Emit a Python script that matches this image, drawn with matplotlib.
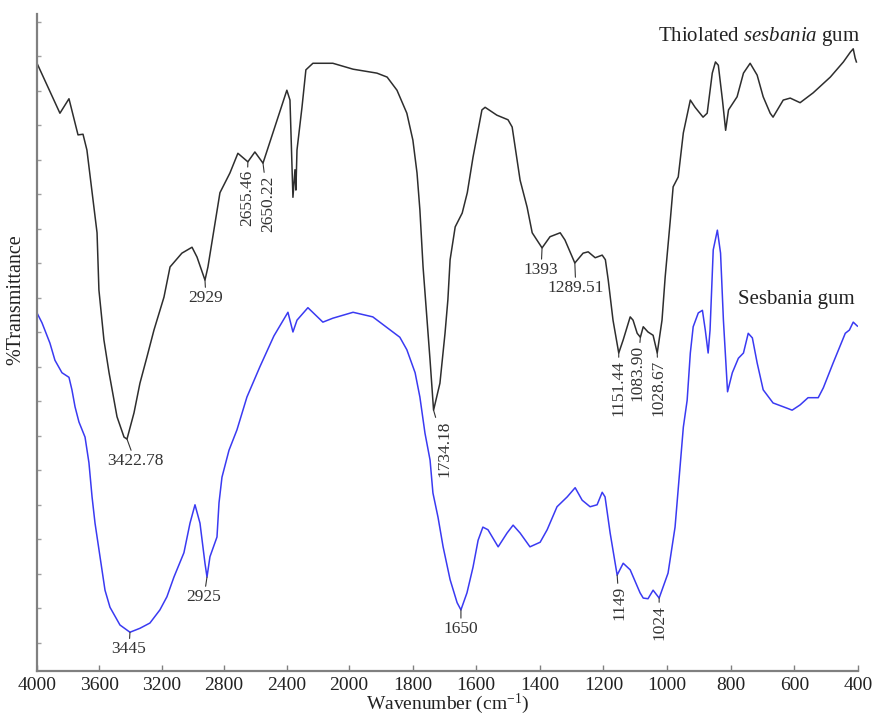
import numpy as np
import matplotlib
matplotlib.use("Agg")
import matplotlib.pyplot as plt

plt.rcParams['font.family'] = ['Liberation Serif', 'DejaVu Serif']
plt.rcParams['mathtext.fontset'] = 'custom'
plt.rcParams['mathtext.rm'] = 'Liberation Serif'
plt.rcParams['mathtext.it'] = 'Liberation Serif:italic'

# thiolated sesbania gum (black trace), wavenumber cm-1 / %T
thio_wn = [4000, 3853, 3795, 3737, 3705, 3680, 3615, 3603, 3571, 3538, 3487, 3442, 3423, 3378,
           3340, 3295, 3250, 3186, 3147, 3071, 3006, 2974, 2923, 2904, 2827, 2763, 2712, 2648,
           2603, 2551, 2398, 2378, 2359, 2346, 2340, 2333, 2301, 2276, 2231, 2103, 1987, 1912,
           1880, 1849, 1818, 1799, 1786, 1777, 1767, 1745, 1734, 1714, 1698, 1689, 1682, 1666,
           1644, 1628, 1610, 1582, 1572, 1535, 1500, 1487, 1462, 1440, 1424, 1393, 1368, 1336,
           1321, 1290, 1264, 1248, 1226, 1204, 1194, 1185, 1170, 1152, 1138, 1116, 1107, 1094,
           1084, 1075, 1060, 1044, 1031, 1016, 1006, 990, 981, 965, 949, 927, 912, 887, 874,
           858, 848, 839, 826, 816, 807, 780, 760, 739, 717, 698, 676, 667, 635, 613, 582, 541,
           487, 446, 424, 415, 409, 405]
thio_t = [92.5, 84.9, 87.1, 81.6, 81.7, 79.3, 66.7, 58.0, 50.4, 45.4, 38.7, 35.6, 35.3, 39.3,
          43.8, 47.8, 51.9, 56.9, 61.5, 63.6, 64.5, 63.0, 59.5, 61.5, 72.8, 75.8, 78.8, 77.5,
          79.0, 77.3, 88.4, 86.9, 72.1, 76.3, 73.2, 79.3, 85.8, 91.5, 92.5, 92.5, 91.6, 91.0,
          90.4, 88.4, 84.9, 80.8, 75.8, 70.2, 61.5, 47.3, 39.7, 43.8, 51.4, 56.5, 62.6, 67.6,
          69.7, 72.8, 78.2, 85.4, 85.8, 84.6, 83.9, 82.8, 74.7, 70.6, 66.7, 64.4, 66.1, 66.7,
          65.6, 62.1, 63.6, 63.8, 62.9, 63.3, 62.6, 59.5, 53.4, 48.4, 50.4, 53.9, 53.4, 51.4,
          50.8, 52.4, 51.6, 51.1, 48.4, 53.4, 60.0, 68.6, 73.7, 75.2, 81.9, 86.9, 85.8, 84.3, 84.9,
          91.0, 92.7, 92.2, 86.9, 82.3, 85.4, 87.4, 91.0, 92.5, 90.7, 87.4, 84.9, 84.3, 86.9,
          87.2, 86.5, 88.0, 90.4, 92.7, 94.2, 94.7, 93.3, 92.7]

# native sesbania gum (blue trace)
ses_wn = [4000, 3968, 3917, 3885, 3840, 3795, 3776, 3756, 3731, 3692, 3667, 3647, 3628, 3596,
          3564, 3532, 3468, 3404, 3340, 3276, 3212, 3167, 3122, 3058, 3019, 2987, 2955, 2923,
          2910, 2891, 2846, 2833, 2814, 2769, 2718, 2654, 2571, 2481, 2391, 2359, 2333, 2263,
          2167, 2103, 1987, 1925, 1840, 1818, 1792, 1777, 1761, 1745, 1736, 1720, 1704, 1682,
          1660, 1648, 1629, 1610, 1594, 1579, 1563, 1531, 1503, 1484, 1462, 1431, 1399, 1377,
          1346, 1314, 1289, 1267, 1242, 1220, 1204, 1195, 1179, 1157, 1138, 1116, 1085, 1075,
          1060, 1044, 1025, 997, 975, 949, 937, 927, 918, 902, 889, 880, 871, 865, 855, 842,
          832, 823, 810, 795, 776, 760, 745, 732, 717, 698, 667, 623, 607, 582, 557, 525, 509,
          478, 440, 427, 415, 402]
ses_t = [54.5, 53.0, 49.9, 47.3, 45.4, 44.7, 42.8, 40.2, 37.9, 35.6, 31.7, 26.5, 22.5, 17.4,
         12.3, 9.7, 7.0, 5.9, 6.5, 7.3, 9.3, 11.3, 14.3, 18.0, 22.5, 25.3, 22.5, 16.4,
         14.3, 17.4, 20.4, 25.6, 29.5, 33.6, 36.7, 41.7, 46.3, 51.0, 54.6, 51.6, 53.4, 55.3,
         53.1, 53.7, 54.6, 53.9, 50.8, 48.9, 45.4, 41.7, 36.2, 32.1, 27.1, 23.4, 18.9, 13.9,
         10.4, 9.3, 11.9, 15.8, 19.9, 21.9, 21.5, 18.9, 21.0, 22.2, 21.0, 18.9, 19.6, 21.5,
         25.0, 26.5, 27.9, 26.0, 25.0, 25.3, 27.2, 26.5, 21.0, 14.6, 16.4, 15.4, 11.9, 11.1,
         11.0, 12.3, 11.1, 14.9, 21.9, 37.1, 41.2, 48.4, 52.4, 54.5, 54.9, 51.9, 48.4, 51.9,
         64.1, 67.1, 63.6, 53.4, 42.5, 45.4, 47.6, 48.4, 51.4, 50.7, 46.9, 42.8, 40.8, 40.0,
         39.7, 40.5, 41.6, 41.6, 43.1, 46.9, 51.4, 51.9, 53.1, 52.5]

# peak labels: text, where it sits on the trace, which trace
peak_text = ['3422.78', '2929', '2655.46', '2650.22', '1734.18', '1393', '1289.51',
             '1151.44', '1083.90', '1028.67', '3445', '2925', '1650', '1149', '1024']
peak_wn = [3423, 2923, 2648, 2551, 1734, 1393, 1290, 1152, 1084, 1031,
           3404, 2910, 1648, 1157, 1025]
peak_trace = ['thio'] * 10 + ['ses'] * 5
# label offsets in pixels (dx, dy) and rotation
peak_dx = [8, 1, -1, 5, 11, -1, 1, 0, -3, 1, -1, -3, 0, 2, 0]
peak_dy = [14, 10, 8, 12, 10, 14, 17, 7, 8, 7, 9, 12, 11, 11, 7]
peak_rot = [0, 0, 90, 90, 90, 0, 0, 90, 90, 90, 0, 0, 0, 90, 90]

xticks = [4000, 3600, 3200, 2800, 2400, 2000, 1800, 1600, 1400, 1200, 1000, 800, 600, 400]

K = 2.04  # the region above 2000 cm-1 is compressed


def fwd(w):
    w = np.asarray(w, dtype=float)
    return np.where(w > 2000, 2000 + (w - 2000) / K, w)


def inv(t):
    t = np.asarray(t, dtype=float)
    return np.where(t > 2000, 2000 + (t - 2000) * K, t)


fig = plt.figure(figsize=(8.74, 7.18), dpi=100)
ax = fig.add_axes([37 / 874, 47 / 718, 821 / 874, 657 / 718])
ax.set_xscale('function', functions=(fwd, inv))

black = '#2e2e2e'
blue = '#3a3af2'
ax.plot(thio_wn, thio_t, color=black, lw=1.1)
ax.plot(ses_wn, ses_t, color=blue, lw=1.1)

ax.set_xlim(4000, 400)
ax.set_ylim(0, 100)

curves = {'thio': (np.array(thio_wn)[::-1], np.array(thio_t)[::-1]),
          'ses': (np.array(ses_wn)[::-1], np.array(ses_t)[::-1])}
for txt, w, tr, dx, dy, rot in zip(peak_text, peak_wn, peak_trace, peak_dx, peak_dy, peak_rot):
    xs, ys = curves[tr]
    y = np.interp(w, xs, ys)
    ax.annotate(txt, xy=(w, y), xytext=(dx * 0.72, -dy * 0.72), textcoords='offset points',
                ha='center', va='top', rotation=rot, fontsize=12.5, color='#333333',
                arrowprops=dict(arrowstyle='-', color='#333333', lw=0.8,
                                shrinkA=0, shrinkB=0))

ax.text(1.003, 0.9665, 'Thiolated $\\mathit{sesbania}$ gum', transform=ax.transAxes,
        ha='right', va='center', fontsize=15, color='#222222')
ax.text(0.996, 0.5647, 'Sesbania gum', transform=ax.transAxes,
        ha='right', va='center', fontsize=15, color='#222222')

for s in ['top', 'right']:
    ax.spines[s].set_visible(False)
for s in ['left', 'bottom']:
    ax.spines[s].set_color('#808080')
    ax.spines[s].set_linewidth(1.6)

ax.set_xticks(xticks)
ax.set_xticklabels([str(v) for v in xticks])
ax.xaxis.set_minor_locator(matplotlib.ticker.NullLocator())
ax.set_yticks(np.arange(4.3, 100, 5.25))
ax.set_yticklabels([])
ax.tick_params(axis='x', direction='in', length=4, width=1, color='#808080',
               labelsize=14, pad=4, labelcolor='#222222')
ax.tick_params(axis='y', direction='in', length=3, width=1, color='#a0a0a0')

ax.set_xlabel('Wavenumber (cm$^{-1}$)', fontsize=14, color='#222222', labelpad=-1)
ax.set_ylabel('%Transmittance', fontsize=14.5, color='#222222')
ax.yaxis.set_label_coords(-0.014, 0.565)

fig.savefig('out.png', dpi=100)
